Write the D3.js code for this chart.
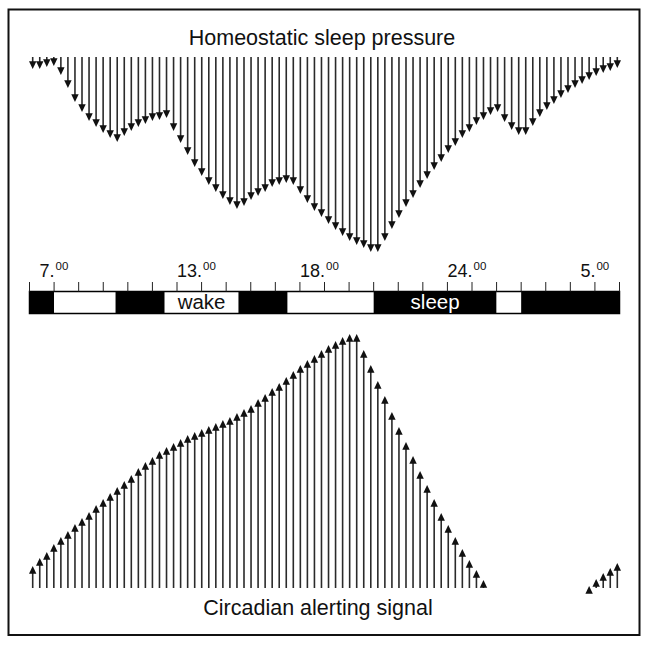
<!DOCTYPE html>
<html>
<head>
<meta charset="utf-8">
<script src="https://cdn.jsdelivr.net/npm/d3@7"></script>
<style>
  html, body { margin: 0; padding: 0; background: #fff; }
  text { font-family: "Liberation Sans", Arial, Helvetica, sans-serif; fill: #111; }
</style>
</head>
<body>
<script>
// sleep pressure, one value per arrow (depth below the top line)
const pressure = [12, 12, 10, 9, 18, 31, 45, 55, 64, 70, 76, 81, 85, 79, 74, 70, 67, 64, 63, 61,
  74, 86, 98, 110, 119, 128, 135, 142, 148, 152, 149, 143, 139, 135, 130, 128, 126, 128, 137, 146,
  154, 160, 167, 173, 179, 184, 188, 191, 195, 195, 184, 172, 161, 150, 141, 131, 122, 113, 105, 96,
  89, 81, 75, 68, 63, 58, 55, 65, 73, 78, 78, 69, 60, 53, 47, 41, 36, 31, 27, 23,
  19, 16, 14, 11];

// circadian alerting signal (height above the bottom line), null = no arrow
const alerting = [22, 30, 36, 44, 51, 57, 64, 70, 76, 83, 89, 95, 101, 107, 113, 120, 126, 131, 137, 141,
  145, 149, 153, 156, 159, 162, 165, 168, 171, 175, 179, 183, 189, 194, 200, 205, 211, 217, 223, 228,
  233, 238, 243, 247, 251, 254, 254, 238, 223, 207, 192, 176, 161, 146, 132, 117, 103, 89, 75, 63,
  51, 39, 28, 18, 8, null, null, null, null, null, null, null, null, null, null, null, null, null, null, 2,
  9, 15, 20, 25];

// wake / sleep bar, hours from 6.00 to 6.00 next day
const barSegments = [
  { from: 6, to: 7, fill: "black" },
  { from: 7, to: 9.5, fill: "white" },
  { from: 9.5, to: 11.5, fill: "black" },
  { from: 11.5, to: 14.5, fill: "white", label: "wake" },
  { from: 14.5, to: 16.5, fill: "black" },
  { from: 16.5, to: 20, fill: "white" },
  { from: 20, to: 25, fill: "black", label: "sleep" },
  { from: 25, to: 26, fill: "white" },
  { from: 26, to: 30, fill: "black" }
];
const tickHours = d3.range(6, 31);
const labelHours = [7, 13, 18, 24, 29];
const labelTexts = ["7.", "13.", "18.", "24.", "5."];

const width = 649, height = 645;
const svg = d3.select("body").append("svg")
  .attr("width", width)
  .attr("height", height);

// frame
svg.append("rect")
  .attr("x", 8.5).attr("y", 9.5)
  .attr("width", 631).attr("height", 625.5)
  .attr("fill", "none")
  .attr("stroke", "#111")
  .attr("stroke-width", 2);

// scales
const x = d3.scaleLinear().domain([0, pressure.length - 1]).range([32.7, 617.3]);
const yTop = d3.scaleLinear().domain([0, 200]).range([57, 257]);
const yBot = d3.scaleLinear().domain([0, 260]).range([588, 328]);
const hx = d3.scaleLinear().domain([6, 30]).range([29.5, 619.5]);

const headW = 3.7, headH = 7.8;
const stemColor = "#2a2a2a";

// top arrows (pointing down)
const gTop = svg.append("g");
gTop.selectAll("line")
  .data(pressure)
  .join("line")
  .attr("x1", (d, i) => x(i)).attr("x2", (d, i) => x(i))
  .attr("y1", yTop(0))
  .attr("y2", d => yTop(d) - headH + 1)
  .attr("stroke", stemColor)
  .attr("stroke-width", 1.6);
gTop.selectAll("path")
  .data(pressure)
  .join("path")
  .attr("d", (d, i) => {
    const cx = x(i), ty = yTop(d);
    return `M${cx - headW},${ty - headH}L${cx + headW},${ty - headH}L${cx},${ty}Z`;
  })
  .attr("fill", "#111");

// bottom arrows (pointing up)
const alertData = alerting.map((v, i) => ({ i, v })).filter(d => d.v !== null);
const gBot = svg.append("g");
gBot.selectAll("line")
  .data(alertData)
  .join("line")
  .attr("x1", d => x(d.i)).attr("x2", d => x(d.i))
  .attr("y1", yBot(0))
  .attr("y2", d => Math.min(yBot(0), yBot(d.v) + headH - 1))
  .attr("stroke", stemColor)
  .attr("stroke-width", 1.6);
gBot.selectAll("path")
  .data(alertData)
  .join("path")
  .attr("d", d => {
    const cx = x(d.i), ty = yBot(d.v);
    return `M${cx - headW},${ty + headH}L${cx + headW},${ty + headH}L${cx},${ty}Z`;
  })
  .attr("fill", "#111");

// time bar
const barTop = 291.5, barH = 22;
const bar = svg.append("g");
bar.selectAll("rect")
  .data(barSegments)
  .join("rect")
  .attr("x", d => hx(d.from))
  .attr("y", barTop)
  .attr("width", d => hx(d.to) - hx(d.from))
  .attr("height", barH)
  .attr("fill", d => d.fill);
bar.append("rect")
  .attr("x", hx(6)).attr("y", barTop)
  .attr("width", hx(30) - hx(6)).attr("height", barH)
  .attr("fill", "none")
  .attr("stroke", "#000")
  .attr("stroke-width", 1.5);
bar.selectAll("text")
  .data(barSegments.filter(d => d.label))
  .join("text")
  .attr("x", d => (hx(d.from) + hx(d.to)) / 2)
  .attr("y", barTop + 17.5)
  .attr("text-anchor", "middle")
  .style("font-size", "20.5px")
  .style("fill", d => d.fill === "black" ? "#fff" : "#111")
  .text(d => d.label);

// hour ticks
svg.append("g").selectAll("line")
  .data(tickHours)
  .join("line")
  .attr("x1", d => hx(d)).attr("x2", d => hx(d))
  .attr("y1", 282).attr("y2", barTop)
  .attr("stroke", "#222")
  .attr("stroke-width", 1);

// hour labels, e.g. 7.00 with the 00 raised
const lab = svg.append("g");
lab.selectAll("text.hr")
  .data(labelHours)
  .join("text")
  .attr("class", "hr")
  .attr("x", d => hx(d) + 0.5)
  .attr("y", 277)
  .attr("text-anchor", "end")
  .style("font-size", "18px")
  .text((d, i) => labelTexts[i]);
lab.selectAll("text.mn")
  .data(labelHours)
  .join("text")
  .attr("class", "mn")
  .attr("x", d => hx(d) + 1.5)
  .attr("y", 270)
  .style("font-size", "11.5px")
  .text("00");

// titles
svg.append("text")
  .attr("x", 322).attr("y", 45)
  .attr("text-anchor", "middle")
  .style("font-size", "21.5px")
  .text("Homeostatic sleep pressure");
svg.append("text")
  .attr("x", 318).attr("y", 615)
  .attr("text-anchor", "middle")
  .style("font-size", "21.5px")
  .text("Circadian alerting signal");
</script>
</body>
</html>
